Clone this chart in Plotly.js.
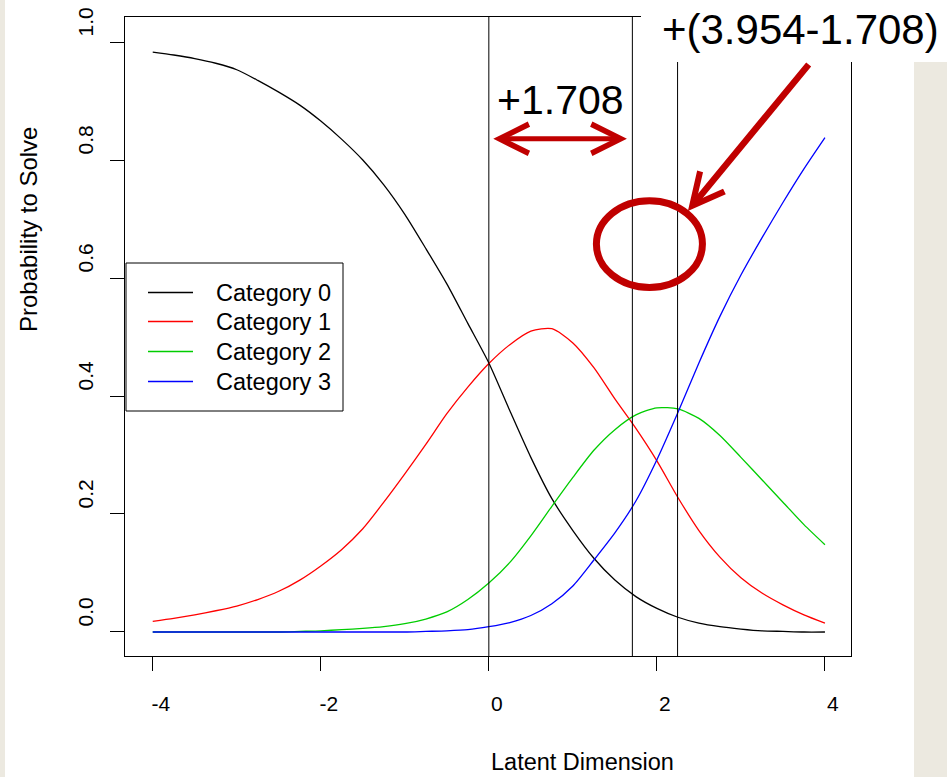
<!DOCTYPE html>
<html>
<head>
<meta charset="utf-8">
<script src="https://cdn.plot.ly/plotly-3.0.1.min.js"></script>
<style>
  html, body { margin: 0; padding: 0; background: #ffffff; }
  #chart { width: 947px; height: 777px; }
</style>
</head>
<body>
<div id="chart"></div>
<script>
// Category response curves over the latent dimension
const theta = [-4, -3.75, -3.5, -3.25, -3, -2.75, -2.5, -2.25, -2, -1.75, -1.5, -1.25, -1, -0.75, -0.5, -0.25,
               0, 0.25, 0.5, 0.75, 1, 1.25, 1.5, 1.75, 2, 2.25, 2.5, 2.75, 3, 3.25, 3.5, 3.75, 4];
const cat0 = [0.983, 0.978, 0.972, 0.964, 0.953, 0.935, 0.915, 0.893, 0.866, 0.835, 0.800, 0.758, 0.708, 0.650, 0.590, 0.523,
              0.456, 0.375, 0.296, 0.226, 0.172, 0.125, 0.088, 0.060, 0.040, 0.025, 0.015, 0.009, 0.005, 0.002, 0.001, 0.000, 0.000];
const cat1 = [0.018, 0.023, 0.029, 0.036, 0.044, 0.055, 0.069, 0.088, 0.112, 0.140, 0.175, 0.220, 0.268, 0.318, 0.370, 0.415,
              0.455, 0.487, 0.510, 0.514, 0.490, 0.448, 0.395, 0.345, 0.290, 0.228, 0.172, 0.127, 0.092, 0.066, 0.046, 0.029, 0.015];
const cat2 = [0.000, 0.000, 0.000, 0.000, 0.000, 0.000, 0.000, 0.001, 0.002, 0.004, 0.006, 0.009, 0.014, 0.022, 0.034, 0.055,
              0.083, 0.118, 0.163, 0.213, 0.262, 0.308, 0.343, 0.368, 0.380, 0.378, 0.362, 0.333, 0.296, 0.258, 0.220, 0.182, 0.148];
const cat3 = [0.000, 0.000, 0.000, 0.000, 0.000, 0.000, 0.000, 0.000, 0.000, 0.000, 0.000, 0.000, 0.000, 0.001, 0.002, 0.004,
              0.009, 0.016, 0.028, 0.048, 0.078, 0.122, 0.168, 0.222, 0.292, 0.372, 0.456, 0.535, 0.605, 0.668, 0.728, 0.785, 0.838];
const categoryNames = ['Category 0', 'Category 1', 'Category 2', 'Category 3'];
const categoryColors = ['#000000', '#FF0000', '#00CD00', '#0000FF'];

const xTickVals = [-4, -2, 0, 2, 4];
const xTickText = ['-4', '-2', '0', '2', '4'];
const yTickVals = [0, 0.2, 0.4, 0.6, 0.8, 1.0];
const yTickText = ['0.0', '0.2', '0.4', '0.6', '0.8', '1.0'];

// Step locations on the latent scale
const firstStep = 1.708;
const secondStepEnd = 3.954;
const thresholds = [0, firstStep, +(secondStepEnd - firstStep).toFixed(3)];

const FONT = 'Liberation Sans, Arial, Helvetica, sans-serif';
const DARKRED = '#C00000';
const BEIGE = '#ECE9E0';

const series = [cat0, cat1, cat2, cat3];
const traces = series.map((vals, i) => ({
  type: 'scatter',
  mode: 'lines',
  x: theta,
  y: vals,
  name: categoryNames[i],
  line: { color: categoryColors[i], width: 1.3, shape: 'spline', smoothing: 0.7 },
  hoverinfo: 'skip',
  showlegend: false
}));

// Plot area: 125..851 px horizontally, 17..656 px vertically
const L = 125, R = 851, T = 17, B = 656, W = 947, H = 777;
const px = v => (v - L) / (R - L);       // pixel -> paper x
const py = v => (B - v) / (B - T);       // pixel -> paper y

const shapes = [];
// Vertical reference lines at the step locations
thresholds.forEach(t => shapes.push({
  type: 'line', xref: 'x', yref: 'paper', x0: t, x1: t, y0: 0, y1: 1,
  line: { color: '#000000', width: 1 }, layer: 'above'
}));
// White panel behind the upper right label
shapes.push({
  type: 'rect', xref: 'paper', yref: 'paper',
  x0: px(641), x1: px(W + 2), y0: py(62), y1: py(-2),
  line: { width: 0 }, fillcolor: '#FFFFFF', layer: 'above'
});
// Beige slide margins
shapes.push({
  type: 'rect', xref: 'paper', yref: 'paper',
  x0: px(-2), x1: px(5), y0: py(H + 2), y1: py(-2),
  line: { width: 0 }, fillcolor: BEIGE, layer: 'below'
});
shapes.push({
  type: 'rect', xref: 'paper', yref: 'paper',
  x0: px(914), x1: px(W + 2), y0: py(H + 2), y1: py(62),
  line: { width: 0 }, fillcolor: BEIGE, layer: 'above'
});
// Legend frame and keys
shapes.push({
  type: 'rect', xref: 'paper', yref: 'paper',
  x0: px(126), x1: px(343), y0: py(411), y1: py(263),
  line: { color: '#000000', width: 1 }, fillcolor: '#FFFFFF', layer: 'above'
});
const legendRows = [292.5, 321.5, 351.5, 381.5];
categoryNames.forEach((name, i) => shapes.push({
  type: 'line', xref: 'paper', yref: 'paper',
  x0: px(148), x1: px(193), y0: py(legendRows[i]), y1: py(legendRows[i]),
  line: { color: categoryColors[i], width: 1.3 }, layer: 'above'
}));
// Highlight ellipse between the second and third step
shapes.push({
  type: 'circle', xref: 'x', yref: 'y',
  x0: 1.280, x1: 2.542, y0: 0.584, y1: 0.731,
  line: { color: DARKRED, width: 7 }, layer: 'above'
});

const annotations = [
  // axis titles
  { xref: 'paper', yref: 'paper', x: px(582), y: py(762), text: 'Latent Dimension',
    showarrow: false, font: { family: FONT, size: 23.5, color: '#000' }, xanchor: 'center', yanchor: 'middle' },
  { xref: 'paper', yref: 'paper', x: px(28), y: py(230), text: 'Probability to Solve', textangle: -90,
    showarrow: false, font: { family: FONT, size: 24, color: '#000' }, xanchor: 'center', yanchor: 'middle' },
  // step labels
  { xref: 'paper', yref: 'paper', x: px(560), y: py(100), text: '+' + firstStep.toFixed(3),
    showarrow: false, font: { family: FONT, size: 41, color: '#000' }, xanchor: 'center', yanchor: 'middle' },
  { xref: 'paper', yref: 'paper', x: px(800), y: py(30),
    text: '+(' + secondStepEnd.toFixed(3) + '-' + firstStep.toFixed(3) + ')',
    showarrow: false, font: { family: FONT, size: 42, color: '#000' }, xanchor: 'center', yanchor: 'middle' },
  // double-headed arrow spanning the first step
  { xref: 'x', yref: 'y', axref: 'x', ayref: 'y',
    x: thresholds[1] - 0.065, y: 0.836, ax: thresholds[0] + 0.035, ay: 0.836,
    text: '', showarrow: true, arrowside: 'end+start',
    arrowhead: 5, startarrowhead: 5, arrowsize: 1.15, startarrowsize: 1.15,
    arrowwidth: 5, arrowcolor: DARKRED, standoff: 0, startstandoff: 0 },
  // pointer toward the third line
  { xref: 'x', yref: 'y', axref: 'x', ayref: 'y',
    x: 2.369, y: 0.7136, ax: 3.821, ay: 0.9644,
    text: '', showarrow: true, arrowhead: 5, arrowsize: 0.95,
    arrowwidth: 6.5, arrowcolor: DARKRED, standoff: 0 }
];
// legend labels
categoryNames.forEach((name, i) => annotations.push({
  xref: 'paper', yref: 'paper', x: px(214), y: py(legendRows[i]), text: name,
  showarrow: false, font: { family: FONT, size: 23.5, color: '#000' }, xanchor: 'left', yanchor: 'middle'
}));

const axisCommon = {
  showgrid: false, zeroline: false,
  showline: true, mirror: true, linecolor: '#000000', linewidth: 1,
  ticks: 'outside', ticklen: 14, tickwidth: 1, tickcolor: '#000000',
  tickfont: { family: FONT, size: 21, color: '#000000' },
  fixedrange: true
};

const layout = {
  width: W, height: H, autosize: false,
  margin: { l: L, r: W - R, t: T, b: H - B, pad: 0 },
  paper_bgcolor: '#FFFFFF', plot_bgcolor: '#FFFFFF',
  font: { family: FONT, color: '#000000' },
  showlegend: false,
  xaxis: Object.assign({}, axisCommon, {
    range: [-4.33, 4.31], tickmode: 'array', tickvals: xTickVals, ticktext: xTickText,
    ticklabelstandoff: 15, ticklabelshift: 8
  }),
  yaxis: Object.assign({}, axisCommon, {
    range: [-0.0407, 1.0424], tickmode: 'array', tickvals: yTickVals, ticktext: yTickText,
    tickangle: -90, ticklabelstandoff: 9, ticklabelshift: -17
  }),
  shapes: shapes,
  annotations: annotations
};

Plotly.newPlot('chart', traces, layout, { displayModeBar: false, staticPlot: true });
</script>
</body>
</html>
